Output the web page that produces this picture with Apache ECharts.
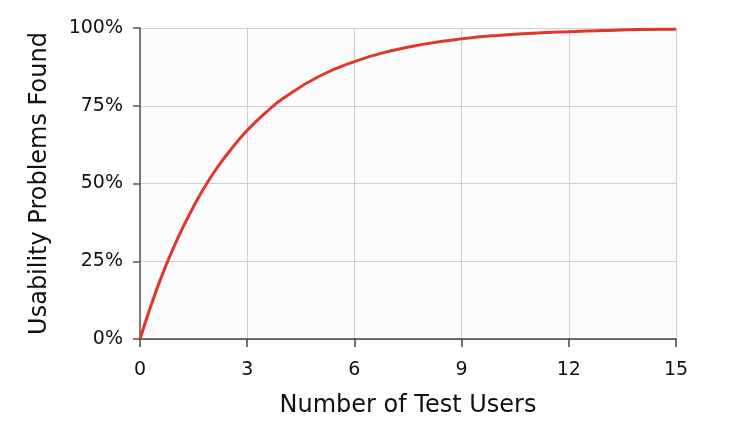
<!DOCTYPE html>
<html><head><meta charset="utf-8">
<script src="https://cdn.jsdelivr.net/npm/echarts@6/dist/echarts.min.js"></script>
<style>html,body{margin:0;padding:0;background:#fff}#c{width:737px;height:430px}</style>
</head><body><div id="c"></div>
<script>
var users = [0,0.5,1,1.5,2,2.5,3,3.5,4,5,6,7,8,9,10,11,12,13,14,15];
var found = [0,17,31,42.6,52.4,60.3,67.1,72.6,77.3,84.4,89.2,92.6,94.9,96.5,97.6,98.3,98.8,99.2,99.5,99.6];
var xTicks = [0,3,6,9,12,15];
var yTicks = [0,25,50,75,100];

var chart = echarts.init(document.getElementById('c'), null, {renderer:'canvas'});
var font = 'DejaVu Sans';
chart.setOption({
  animation:false,
  backgroundColor:'#fff',
  grid:{left:140,right:61,top:28,bottom:91,show:true,backgroundColor:'#fcfcfc',borderWidth:0},
  xAxis:{type:'value',min:0,max:15,interval:3,
    name:'Number of Test Users',nameLocation:'middle',nameGap:55,
    nameTextStyle:{fontFamily:font,fontSize:24,color:'#111'},
    axisLine:{show:true,lineStyle:{color:'#444',width:1.5}},
    axisTick:{show:true,length:8,inside:false,lineStyle:{color:'#444',width:1.5}},
    axisLabel:{fontFamily:font,fontSize:19,color:'#111',margin:22,
      formatter:function(v){return xTicks.indexOf(v)>=0?String(v):'';}},
    splitLine:{show:true,lineStyle:{color:'#d0d0d0',width:1}}
  },
  yAxis:{type:'value',min:0,max:100,interval:25,
    name:'Usability Problems Found',nameLocation:'middle',nameGap:88,
    nameTextStyle:{fontFamily:font,fontSize:24,color:'#111'},
    axisLine:{show:true,lineStyle:{color:'#555',width:1.5}},
    axisTick:{show:true,length:7,lineStyle:{color:'#555',width:1.5}},
    axisLabel:{fontFamily:font,fontSize:19,color:'#111',margin:17,
      formatter:function(v){return yTicks.indexOf(v)>=0?v+'%':'';}},
    splitLine:{show:true,lineStyle:{color:'#d0d0d0',width:1}}
  },
  series:[{type:'line',data:users.map(function(u,i){return [u,found[i]];}),
    smooth:true,symbol:'none',
    lineStyle:{color:'#e0372c',width:3}}]
});
</script></body></html>
